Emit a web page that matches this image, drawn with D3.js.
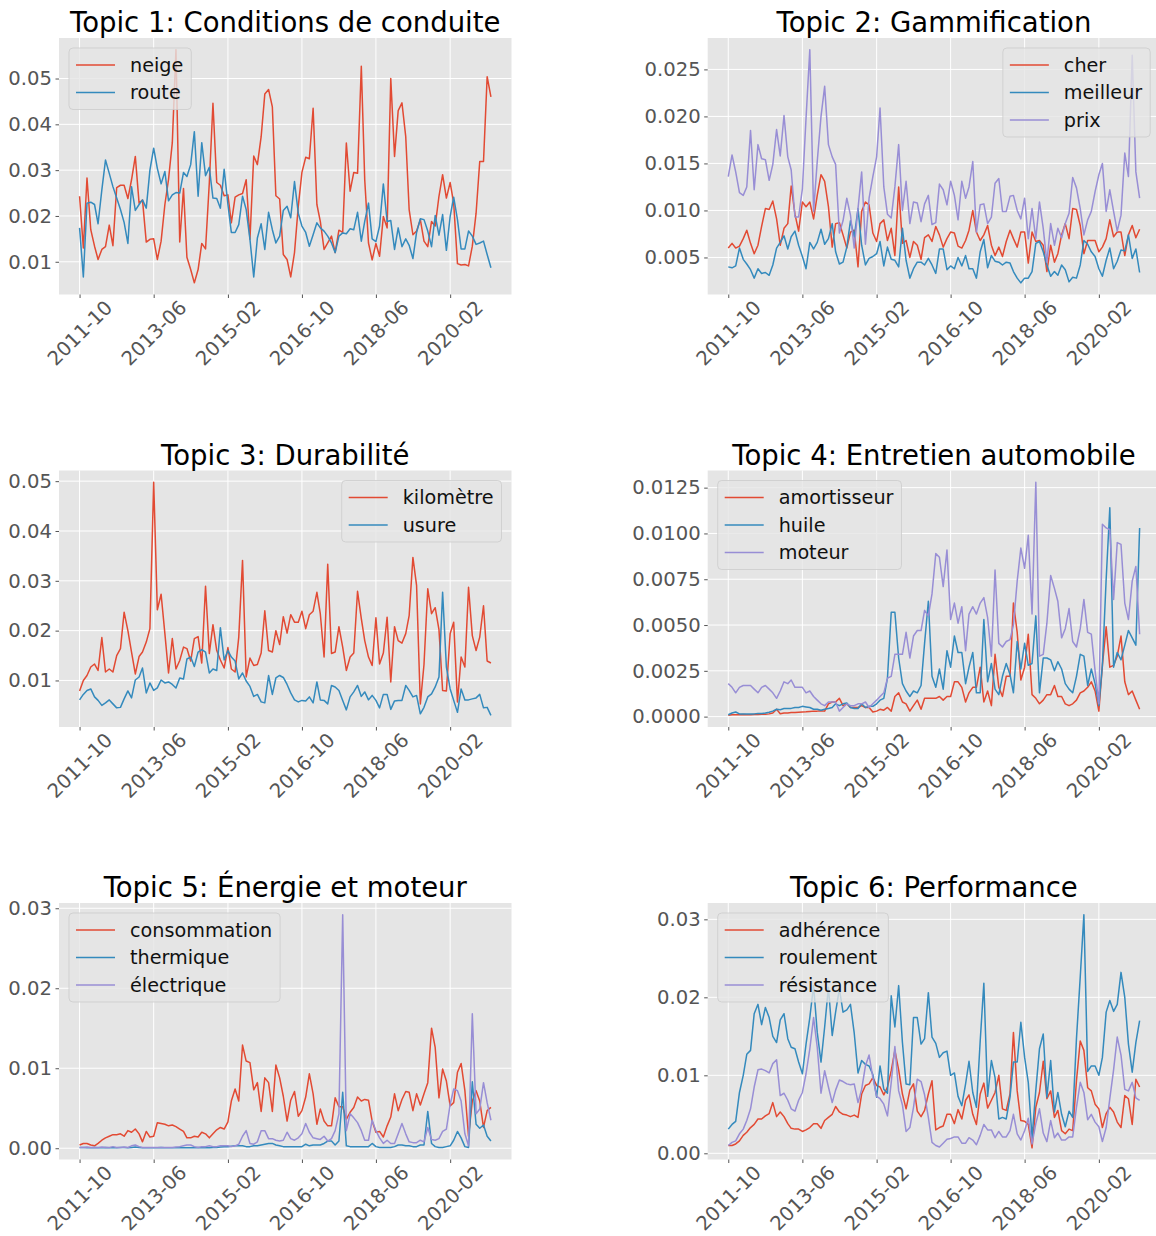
<!DOCTYPE html>
<html>
<head>
<meta charset="utf-8">
<script src="https://cdn.jsdelivr.net/npm/d3@7"></script>
<style>
  body { margin: 0; background: #fff; }
  text { font-family: "DejaVu Sans", sans-serif; }
</style>
</head>
<body>
<div id="chart"></div>
<script>
// monthly series, 2011-10 .. 2021-01
const firstMonth = "2011-10";
const monthCount = 112;
const xTickLabels = ["2011-10", "2013-06", "2015-02", "2016-10", "2018-06", "2020-02"];

// Topic 1
const neige = [0.0243,0.013,0.0283,0.017,0.0134,0.0105,0.0127,0.0133,0.018,0.0135,
  0.0262,0.0267,0.0267,0.0238,0.0279,0.033,0.0228,0.0235,0.0143,0.0149,
  0.015,0.0105,0.0145,0.0225,0.028,0.036,0.0563,0.0143,0.026,0.011,
  0.0083,0.0054,0.0083,0.014,0.0128,0.0272,0.0446,0.0273,0.0267,0.0244,
  0.0246,0.0185,0.0241,0.0246,0.0249,0.0279,0.0149,0.0331,0.0312,0.0373,
  0.0466,0.0476,0.0438,0.0244,0.0237,0.0116,0.0105,0.0067,0.012,0.0221,
  0.0295,0.0328,0.0325,0.0435,0.0225,0.0188,0.0127,0.0141,0.0156,0.012,
  0.0169,0.0164,0.0359,0.0254,0.0295,0.0293,0.0527,0.0279,0.0141,0.0104,
  0.014,0.0112,0.0199,0.0174,0.05,0.033,0.043,0.0447,0.0373,0.0214,
  0.0159,0.0167,0.0192,0.0145,0.0133,0.0188,0.0178,0.0243,0.029,0.0239,
  0.0273,0.0228,0.0096,0.0093,0.0094,0.0091,0.0134,0.0206,0.0319,0.0319,0.0504,0.046];
const route = [0.0174,0.0067,0.0228,0.023,0.0225,0.0183,0.0257,0.0322,0.0293,0.0264,
  0.0239,0.0214,0.0186,0.014,0.0264,0.0212,0.0225,0.0235,0.0217,0.03,
  0.0348,0.0304,0.027,0.0297,0.0233,0.0246,0.0251,0.025,0.0295,0.0286,
  0.0312,0.0384,0.0243,0.036,0.0288,0.0306,0.0239,0.0238,0.0217,0.0302,
  0.0225,0.0164,0.0164,0.0181,0.0243,0.0214,0.0149,0.0067,0.0152,0.0183,
  0.0127,0.0208,0.017,0.0141,0.0156,0.0212,0.0221,0.0196,0.0275,0.0206,
  0.0178,0.0164,0.0134,0.0159,0.0185,0.0174,0.0167,0.0156,0.0141,0.012,
  0.0156,0.0163,0.0161,0.0172,0.017,0.0208,0.0145,0.0188,0.0228,0.015,
  0.0144,0.0178,0.027,0.0188,0.019,0.0127,0.0174,0.0133,0.015,0.0136,
  0.0107,0.0164,0.0194,0.0192,0.0167,0.0133,0.0201,0.0158,0.0203,0.0125,
  0.0199,0.0241,0.0192,0.0128,0.0128,0.0167,0.0156,0.0138,0.0141,0.0145,0.0116,0.0087];

// Topic 2
const cher = [0.006,0.0065,0.006,0.0062,0.007,0.0079,0.0065,0.0054,0.0063,0.0083,
  0.0102,0.0101,0.011,0.0091,0.0063,0.0081,0.0086,0.0126,0.0096,0.0078,
  0.0109,0.0104,0.0109,0.0091,0.0116,0.0138,0.0131,0.0104,0.0061,0.0086,
  0.0087,0.0074,0.006,0.0077,0.0079,0.004,0.0099,0.0109,0.0106,0.0076,
  0.0067,0.0086,0.009,0.0068,0.0081,0.0052,0.0125,0.0065,0.0068,0.005,
  0.0067,0.0063,0.0048,0.0071,0.0074,0.0067,0.0083,0.0074,0.0061,0.007,
  0.0077,0.0076,0.0062,0.006,0.0068,0.0079,0.01,0.0077,0.0068,0.0074,
  0.0084,0.0063,0.0052,0.0061,0.0051,0.0067,0.0079,0.007,0.0061,0.0077,
  0.0077,0.0044,0.0077,0.0067,0.0068,0.0063,0.0035,0.0063,0.0045,0.0054,
  0.0074,0.0086,0.007,0.0102,0.0101,0.0084,0.0054,0.0068,0.0068,0.0068,
  0.0056,0.0061,0.007,0.009,0.0072,0.0077,0.0077,0.0052,0.0074,0.0084,0.0071,0.008];
const meilleur = [0.004,0.0039,0.0041,0.006,0.0048,0.0043,0.0037,0.0028,0.0038,0.0033,
  0.0034,0.0031,0.0042,0.006,0.0066,0.0073,0.0059,0.0072,0.0078,0.0063,
  0.0051,0.0038,0.0066,0.0059,0.0066,0.008,0.0064,0.007,0.0086,0.0056,
  0.0043,0.0045,0.0061,0.0089,0.0072,0.0102,0.0063,0.0042,0.0049,0.0051,
  0.0054,0.0067,0.0041,0.0061,0.0048,0.0047,0.004,0.0081,0.0047,0.0028,
  0.0038,0.0045,0.0045,0.0042,0.0049,0.0042,0.0033,0.0059,0.0059,0.0037,
  0.0041,0.0038,0.005,0.0041,0.0052,0.0038,0.0038,0.0028,0.0056,0.0069,
  0.0039,0.0052,0.0046,0.0045,0.0042,0.0045,0.0044,0.0035,0.0028,0.0023,
  0.0028,0.0028,0.0035,0.0065,0.0067,0.0056,0.0042,0.003,0.0035,0.0031,
  0.0042,0.0037,0.0024,0.0029,0.0028,0.0042,0.0068,0.0064,0.0056,0.0051,
  0.0038,0.003,0.0047,0.006,0.0038,0.0046,0.0058,0.0057,0.0074,0.0049,0.0059,0.0034];
const prix = [0.0136,0.0159,0.0141,0.0119,0.0116,0.0125,0.0185,0.0122,0.017,0.0155,
  0.0154,0.0132,0.0149,0.0186,0.0158,0.0201,0.0157,0.0143,0.0093,0.0093,
  0.0123,0.0198,0.0271,0.0099,0.0152,0.02,0.0232,0.017,0.0157,0.0149,
  0.0076,0.0089,0.0113,0.0095,0.006,0.0102,0.0141,0.0064,0.0113,0.0136,
  0.0157,0.0209,0.0125,0.0096,0.0092,0.0125,0.017,0.01,0.0131,0.0086,
  0.0109,0.0108,0.0088,0.0107,0.0116,0.0085,0.0087,0.0128,0.0122,0.0106,
  0.0131,0.0116,0.009,0.0131,0.0113,0.0125,0.0152,0.0077,0.0106,0.0107,
  0.0086,0.0093,0.0129,0.0134,0.0099,0.0099,0.0115,0.0116,0.01,0.0091,
  0.0113,0.007,0.0102,0.007,0.0109,0.0081,0.0045,0.0086,0.0063,0.0081,
  0.0071,0.0086,0.0097,0.0135,0.0124,0.0102,0.0074,0.009,0.0099,0.012,
  0.0138,0.015,0.0099,0.0122,0.0099,0.0078,0.0095,0.0161,0.0136,0.0265,0.0141,0.0113];

// Topic 3
const kilometre = [0.0079,0.01,0.011,0.0127,0.0133,0.012,0.0186,0.0117,0.0123,0.0117,
  0.015,0.0164,0.0237,0.02,0.0157,0.0113,0.0148,0.0157,0.0177,0.0204,
  0.0498,0.0242,0.0273,0.0194,0.0115,0.0184,0.0123,0.014,0.0167,0.0164,
  0.0139,0.0184,0.0188,0.0135,0.0289,0.0154,0.0212,0.016,0.0141,0.0125,
  0.0166,0.0123,0.0117,0.0187,0.0341,0.0107,0.0145,0.013,0.0132,0.0155,
  0.024,0.016,0.0157,0.02,0.0172,0.0228,0.0195,0.0232,0.0217,0.0217,
  0.0239,0.0204,0.0232,0.0239,0.0277,0.0234,0.0147,0.0333,0.0154,0.0157,
  0.0208,0.0167,0.012,0.0147,0.0155,0.0279,0.0224,0.018,0.0147,0.013,
  0.0226,0.0133,0.0155,0.0227,0.0097,0.0208,0.018,0.0175,0.0194,0.023,
  0.0347,0.0291,0.0053,0.0132,0.0284,0.0234,0.0246,0.0202,0.008,0.0079,
  0.0194,0.0217,0.0057,0.0147,0.0127,0.0287,0.019,0.016,0.0187,0.025,0.0139,0.0135];
const usure = [0.0061,0.0072,0.008,0.0083,0.0067,0.006,0.005,0.0055,0.0061,0.0053,
  0.0045,0.0046,0.0063,0.0079,0.0065,0.0101,0.0107,0.0125,0.0075,0.0095,
  0.008,0.0085,0.0101,0.0095,0.0097,0.0092,0.0085,0.0105,0.0103,0.0143,
  0.0147,0.0128,0.0157,0.0162,0.0157,0.0115,0.0123,0.012,0.0206,0.0141,
  0.016,0.0147,0.0139,0.0103,0.0115,0.0099,0.0088,0.0068,0.0072,0.0057,
  0.0055,0.011,0.0072,0.0105,0.011,0.0106,0.0092,0.0075,0.0061,0.0057,
  0.006,0.0059,0.0067,0.0055,0.0097,0.0061,0.006,0.0053,0.009,0.0087,
  0.008,0.006,0.0041,0.0067,0.0077,0.009,0.0068,0.0077,0.0061,0.007,
  0.006,0.0045,0.0072,0.0072,0.0042,0.0059,0.006,0.006,0.009,0.008,
  0.0067,0.007,0.0033,0.0046,0.0067,0.0073,0.0087,0.0107,0.0277,0.0127,
  0.0083,0.006,0.0036,0.0083,0.0061,0.0061,0.0063,0.0065,0.0072,0.0045,0.0046,0.003];

// Topic 4
const amortisseur = [0.00007,0.0001,0.0001,0.0001,0.00012,0.0001,0.0001,0.00012,0.00012,0.00013,
  0.00013,0.00015,0.0002,0.0004,0.00016,0.0002,0.0002,0.00022,0.00022,0.00024,
  0.00025,0.00026,0.00028,0.0003,0.0003,0.00032,0.0003,0.0007,0.0008,0.0008,
  0.001,0.0006,0.0007,0.0005,0.0005,0.0005,0.0006,0.0005,0.0005,0.00025,
  0.0003,0.0004,0.00035,0.0005,0.0003,0.0011,0.0013,0.0008,0.0007,0.0003,
  0.0006,0.0009,0.0004,0.001,0.001,0.001,0.001,0.0011,0.0009,0.0011,
  0.0011,0.0019,0.0019,0.0016,0.0008,0.0013,0.0016,0.0016,0.0027,0.0008,
  0.0014,0.0006,0.0034,0.0016,0.0011,0.0022,0.0022,0.0062,0.0046,0.002,
  0.0027,0.0045,0.0012,0.001,0.0007,0.0009,0.0012,0.0012,0.0017,0.0011,
  0.0011,0.0007,0.0006,0.0007,0.0009,0.0013,0.0014,0.0016,0.0019,0.0014,
  0.0003,0.0028,0.0049,0.0027,0.0028,0.0033,0.0044,0.0019,0.0012,0.0014,0.0009,0.0004];
const huile = [0.0001,0.0002,0.00025,0.00015,0.00015,0.00015,0.00015,0.00015,0.00017,0.00017,
  0.0002,0.00024,0.0003,0.0004,0.00038,0.00044,0.00044,0.00045,0.0005,0.0005,
  0.00056,0.00053,0.0005,0.0004,0.0004,0.00035,0.0004,0.00044,0.0005,0.0007,
  0.0006,0.0007,0.00074,0.0005,0.00044,0.00044,0.0007,0.0005,0.00056,0.00056,
  0.0007,0.0009,0.001,0.0021,0.0057,0.0057,0.0032,0.0018,0.0014,0.0011,
  0.0014,0.0013,0.0017,0.004,0.0063,0.0022,0.0016,0.0026,0.0015,0.0036,
  0.0027,0.0044,0.0035,0.0035,0.0018,0.0027,0.0035,0.0013,0.0013,0.0053,
  0.0019,0.0029,0.0015,0.0012,0.0022,0.0029,0.0023,0.0013,0.0041,0.0026,
  0.004,0.0028,0.0029,0.0055,0.0013,0.0032,0.0032,0.0031,0.0025,0.003,
  0.0026,0.0018,0.0015,0.0013,0.0022,0.0034,0.0033,0.0017,0.0026,0.0018,
  0.0006,0.0028,0.0075,0.0114,0.0027,0.0035,0.0031,0.0039,0.0047,0.0043,0.0039,0.0103];
const moteur = [0.0018,0.0016,0.0013,0.0016,0.0017,0.0017,0.0017,0.0015,0.0013,0.0016,
  0.0017,0.0015,0.0013,0.001,0.0014,0.0019,0.0018,0.002,0.0016,0.0016,
  0.0016,0.0013,0.0014,0.0011,0.0009,0.0007,0.0006,0.0008,0.0008,0.0008,
  0.0003,0.0005,0.0007,0.0006,0.0006,0.0007,0.0007,0.0008,0.0005,0.0007,
  0.0009,0.0011,0.0013,0.0021,0.0022,0.0034,0.0034,0.0034,0.0046,0.0032,
  0.0044,0.0047,0.0047,0.0058,0.0055,0.0067,0.0089,0.0087,0.0071,0.0091,
  0.0053,0.0062,0.0051,0.006,0.0036,0.0056,0.006,0.0056,0.0062,0.0065,
  0.0054,0.0033,0.008,0.004,0.0038,0.0041,0.0042,0.005,0.0074,0.0092,
  0.0081,0.0099,0.0056,0.0128,0.0033,0.0034,0.0051,0.0077,0.007,0.0063,
  0.0043,0.0048,0.0059,0.0041,0.0038,0.0048,0.0064,0.0046,0.0045,0.0025,
  0.0007,0.0105,0.0103,0.0102,0.0064,0.0095,0.0094,0.0062,0.0053,0.0074,0.0082,0.0045];

// Topic 5
const consommation = [0.0004,0.0006,0.0006,0.0004,0.0003,0.0006,0.001,0.0013,0.0015,0.0017,
  0.0017,0.0018,0.0015,0.0022,0.002,0.0024,0.0018,0.0008,0.0021,0.0014,
  0.0015,0.0032,0.0031,0.003,0.0028,0.0029,0.0027,0.0024,0.0021,0.0013,
  0.0013,0.0015,0.0014,0.002,0.0018,0.0013,0.0018,0.0023,0.0026,0.0024,
  0.0033,0.0059,0.0074,0.0059,0.0129,0.0109,0.0107,0.0073,0.0082,0.0046,
  0.0088,0.0082,0.0046,0.0104,0.0088,0.0065,0.0034,0.006,0.0071,0.004,
  0.0047,0.0064,0.0093,0.0068,0.003,0.0049,0.0034,0.0028,0.0028,0.0063,
  0.0052,0.0052,0.0036,0.0045,0.0051,0.0064,0.0059,0.0061,0.006,0.0034,
  0.002,0.0021,0.0014,0.0028,0.0039,0.0068,0.0047,0.0061,0.0071,0.007,
  0.0047,0.0068,0.0054,0.0068,0.0082,0.015,0.0126,0.0063,0.0099,0.0084,
  0.0053,0.0057,0.0095,0.0106,0.0072,0.0015,0.0059,0.0072,0.0059,0.0026,0.0047,0.0051];
const thermique = [0.0001,0.0001,0.00005,0.00005,0.0001,0.00005,0.00005,0.0001,0.00005,0.00005,
  0.00005,0.0001,0.0001,0.00005,0.0001,0.00015,0.0001,0.00005,0.00005,0.00005,
  0.00005,0.00005,0.0001,0.00005,0.00005,0.00005,0.00005,0.0001,0.00005,0.00005,
  0.00005,0.00005,0.0001,0.00005,0.0001,0.00005,0.0001,0.0001,0.00015,0.0002,
  0.0002,0.00025,0.0003,0.0003,0.0003,0.0002,0.0002,0.0003,0.0003,0.0004,
  0.0005,0.0006,0.0006,0.0004,0.0003,0.0002,0.0002,0.0002,0.0002,0.0002,
  0.0002,0.0005,0.0003,0.0004,0.0004,0.0004,0.0006,0.0009,0.0009,0.0004,
  0.0009,0.007,0.0003,0.0002,0.0002,0.0002,0.0002,0.0002,0.0002,0.0006,
  0.0002,0.0001,0.0001,0.0001,0.0001,0.0002,0.0004,0.0004,0.0003,0.0003,
  0.0002,0.0002,0.0004,0.0004,0.0046,0.0006,0.0002,0.0001,0.0001,0.0002,
  0.0003,0.001,0.0021,0.0013,0.0002,0.0001,0.0083,0.003,0.0025,0.0029,0.0015,0.0009];
const electrique = [0.0001,0.0001,0.00015,0.0001,0.0001,0.0001,0.00015,0.0001,0.0001,0.0002,
  0.0001,0.0001,0.00015,0.0001,0.0003,0.0004,0.0002,0.0001,0.0001,0.0001,
  0.0001,0.0001,0.0001,0.0001,0.0001,0.0001,0.00015,0.0002,0.0003,0.0004,
  0.0004,0.0002,0.0001,0.0002,0.0002,0.0003,0.0002,0.0002,0.0003,0.0003,
  0.0003,0.0002,0.0003,0.0005,0.0015,0.0022,0.0006,0.0005,0.0008,0.0022,
  0.0022,0.0012,0.0012,0.001,0.0009,0.001,0.002,0.0012,0.001,0.0013,
  0.0018,0.0031,0.002,0.0013,0.0012,0.0011,0.0015,0.0009,0.0012,0.0022,
  0.0043,0.0292,0.0022,0.0043,0.0038,0.0032,0.0022,0.001,0.001,0.0035,
  0.0022,0.0013,0.0006,0.001,0.0006,0.0006,0.0018,0.0031,0.0018,0.0008,
  0.0007,0.0007,0.001,0.0008,0.0026,0.0011,0.001,0.0012,0.0021,0.0024,
  0.0055,0.0074,0.0072,0.0059,0.0018,0.0003,0.0168,0.0043,0.0049,0.0082,0.0057,0.0035];

// Topic 6
const adherence = [0.001,0.001,0.0012,0.0016,0.0023,0.0027,0.0033,0.0037,0.0044,0.0044,
  0.0048,0.0051,0.0065,0.0047,0.0053,0.0047,0.0038,0.0032,0.0031,0.0031,
  0.0028,0.003,0.0033,0.0038,0.0038,0.0032,0.0042,0.0046,0.005,0.006,
  0.0053,0.005,0.0049,0.0047,0.0049,0.0046,0.0076,0.0087,0.0089,0.0097,
  0.0087,0.0085,0.0075,0.0085,0.0106,0.0132,0.0107,0.0076,0.0057,0.0081,
  0.0089,0.0054,0.0047,0.0055,0.0076,0.0093,0.003,0.0033,0.0035,0.005,
  0.005,0.0038,0.0056,0.0044,0.0068,0.0075,0.005,0.0037,0.0076,0.009,
  0.0058,0.0068,0.0078,0.01,0.0057,0.0055,0.0076,0.0155,0.008,0.0042,
  0.0041,0.0037,0.0007,0.0059,0.0078,0.0118,0.007,0.008,0.0046,0.0055,
  0.0029,0.0025,0.0031,0.0029,0.0093,0.0144,0.0132,0.0084,0.008,0.0063,
  0.0057,0.0033,0.0051,0.0059,0.0053,0.004,0.0033,0.0074,0.007,0.0037,0.0095,0.0085];
const roulement = [0.0031,0.0037,0.0041,0.0078,0.01,0.0127,0.0132,0.0179,0.0191,0.0165,
  0.0187,0.0174,0.015,0.0142,0.0171,0.0179,0.0147,0.0136,0.0134,0.0117,
  0.0102,0.014,0.0174,0.0215,0.0155,0.0117,0.0162,0.0213,0.0151,0.0181,
  0.0211,0.0181,0.0184,0.0191,0.0154,0.0103,0.0119,0.0114,0.0112,0.0101,
  0.0072,0.0112,0.0082,0.0077,0.0202,0.0162,0.0215,0.0142,0.0089,0.0088,
  0.0174,0.0174,0.014,0.0147,0.0206,0.0149,0.0141,0.0123,0.0129,0.0131,
  0.01,0.0103,0.0073,0.0061,0.0089,0.0118,0.0078,0.0059,0.0144,0.0218,
  0.0073,0.0119,0.0097,0.0044,0.0046,0.0044,0.0072,0.0117,0.0117,0.0168,
  0.0123,0.0091,0.002,0.0081,0.0134,0.0153,0.0072,0.0119,0.0053,0.0078,
  0.005,0.0034,0.0054,0.0046,0.0147,0.0226,0.0306,0.0105,0.0112,0.0112,
  0.01,0.0123,0.0181,0.0196,0.0182,0.0191,0.0232,0.02,0.014,0.0104,0.0142,0.017];
const resistance = [0.001,0.0014,0.0016,0.0025,0.0031,0.0042,0.0057,0.0085,0.0107,0.0108,
  0.0106,0.0103,0.0115,0.012,0.0074,0.0077,0.0068,0.0057,0.0054,0.0068,
  0.0078,0.0102,0.0134,0.0174,0.0136,0.0077,0.0106,0.0085,0.0065,0.0081,
  0.0094,0.0092,0.0089,0.0088,0.0089,0.0065,0.0082,0.0112,0.0126,0.0097,
  0.0073,0.007,0.0063,0.0048,0.0091,0.0137,0.008,0.0062,0.0028,0.0033,
  0.0059,0.0095,0.0092,0.0075,0.0046,0.0014,0.001,0.0008,0.0013,0.0018,
  0.0019,0.0021,0.0021,0.0013,0.0013,0.002,0.0017,0.0011,0.0023,0.0037,
  0.003,0.003,0.002,0.0028,0.0021,0.0021,0.0029,0.005,0.0025,0.0017,
  0.0029,0.0045,0.0012,0.0038,0.0057,0.0026,0.0015,0.0042,0.002,0.0026,
  0.0017,0.0017,0.0021,0.0021,0.0059,0.0091,0.0078,0.0043,0.005,0.004,
  0.0034,0.0015,0.0033,0.007,0.0107,0.0149,0.0126,0.0082,0.008,0.0091,0.0071,0.0068];

const panelTitles = ["Topic 1: Conditions de conduite", "Topic 2: Gammification",
  "Topic 3: Durabilité", "Topic 4: Entretien automobile",
  "Topic 5: Énergie et moteur", "Topic 6: Performance"];
const panelNames = [["neige", "route"], ["cher", "meilleur", "prix"],
  ["kilomètre", "usure"], ["amortisseur", "huile", "moteur"],
  ["consommation", "thermique", "électrique"], ["adhérence", "roulement", "résistance"]];
const panelValues = [[neige, route], [cher, meilleur, prix],
  [kilometre, usure], [amortisseur, huile, moteur],
  [consommation, thermique, electrique], [adherence, roulement, resistance]];
const panelYTicks = [[0.01, 0.02, 0.03, 0.04, 0.05],
  [0.005, 0.010, 0.015, 0.020, 0.025],
  [0.01, 0.02, 0.03, 0.04, 0.05],
  [0, 0.0025, 0.005, 0.0075, 0.01, 0.0125],
  [0, 0.01, 0.02, 0.03],
  [0, 0.01, 0.02, 0.03]];
const panelYFormats = [".2f", ".3f", ".2f", ".4f", ".2f", ".2f"];
const legendCorner = ["left", "right", "right", "left", "left", "left"];

// layout
const svgWidth = 1156, svgHeight = 1236;
const colX = [59, 707.7];
const rowY = [38, 470.5, 903];
const axW = 452.5, axH = 256.5;
const colors = ["#E24A33", "#348ABD", "#988ED5"];
const tickFont = 19.6, legendFont = 19.2;

const parseMonth = d3.timeParse("%Y-%m");
const months = d3.timeMonth.range(parseMonth(firstMonth),
  d3.timeMonth.offset(parseMonth(firstMonth), monthCount));
const xTickDates = xTickLabels.map(parseMonth);

const svg = d3.select("#chart").append("svg")
  .attr("width", svgWidth)
  .attr("height", svgHeight)
  .style("background", "#fff");

panelTitles.forEach((title, p) => {
  const x0 = colX[p % 2];
  const y0 = rowY[Math.floor(p / 2)];
  const series = panelValues[p];

  // matplotlib-like 5% margins
  const [lo, hi] = d3.extent(series.flat());
  const yPad = (hi - lo) * 0.05;
  const y = d3.scaleLinear().domain([lo - yPad, hi + yPad]).range([y0 + axH, y0]);
  const t0 = +months[0], t1 = +months[months.length - 1];
  const tPad = (t1 - t0) * 0.05;
  const x = d3.scaleTime().domain([new Date(t0 - tPad), new Date(t1 + tPad)]).range([x0, x0 + axW]);

  const g = svg.append("g");

  g.append("rect")
    .attr("x", x0).attr("y", y0)
    .attr("width", axW).attr("height", axH)
    .attr("fill", "#E5E5E5");

  // grid
  g.append("g").selectAll("line")
    .data(panelYTicks[p])
    .join("line")
    .attr("x1", x0).attr("x2", x0 + axW)
    .attr("y1", d => y(d)).attr("y2", d => y(d))
    .attr("stroke", "#fff").attr("stroke-width", 1);
  g.append("g").selectAll("line")
    .data(xTickDates)
    .join("line")
    .attr("x1", d => x(d)).attr("x2", d => x(d))
    .attr("y1", y0).attr("y2", y0 + axH)
    .attr("stroke", "#fff").attr("stroke-width", 1);

  // series
  const line = d3.line()
    .x((d, i) => x(months[i]))
    .y(d => y(d));
  series.forEach((vals, k) => {
    g.append("path")
      .datum(vals)
      .attr("d", line)
      .attr("fill", "none")
      .attr("stroke", colors[k])
      .attr("stroke-width", 1.5)
      .attr("stroke-linejoin", "round");
  });

  // legend
  const names = panelNames[p];
  const rowH = 27.5, pad = 7, textH = 18;
  const lg = g.append("g");
  const box = lg.append("rect")
    .attr("rx", 4)
    .attr("fill", "#E5E5E5").attr("fill-opacity", 0.8)
    .attr("stroke", "#CCCCCC").attr("stroke-opacity", 0.8)
    .attr("stroke-width", 1);
  const labels = names.map((n, k) => lg.append("text")
    .attr("font-size", legendFont)
    .attr("fill", "#111")
    .attr("dominant-baseline", "central")
    .text(n));
  const maxW = d3.max(labels, t => t.node().getComputedTextLength());
  const boxW = 61 + maxW + 8;
  const boxH = 2 * pad + names.length * rowH - (rowH - textH) + 2;
  const bx = legendCorner[p] === "left" ? x0 + 10 : x0 + axW - 10 - boxW;
  const by = y0 + 10;
  box.attr("x", bx).attr("y", by).attr("width", boxW).attr("height", boxH);
  names.forEach((n, k) => {
    const cy = by + pad + 10 + k * rowH;
    lg.append("line")
      .attr("x1", bx + 7).attr("x2", bx + 46)
      .attr("y1", cy).attr("y2", cy)
      .attr("stroke", colors[k]).attr("stroke-width", 1.5);
    labels[k].attr("x", bx + 61).attr("y", cy);
  });

  // y axis
  const yAxis = g.append("g")
    .attr("transform", `translate(${x0},0)`)
    .call(d3.axisLeft(y)
      .tickValues(panelYTicks[p])
      .tickFormat(d3.format(panelYFormats[p]))
      .tickSize(3.5)
      .tickPadding(3.5));
  yAxis.select(".domain").remove();
  yAxis.attr("font-size", tickFont).attr("font-family", "DejaVu Sans");
  yAxis.selectAll("line").attr("stroke", "#555555");
  yAxis.selectAll("text").attr("fill", "#555555");

  // x axis, labels rotated 45 degrees around their centre
  const xAxis = g.append("g")
    .attr("transform", `translate(0,${y0 + axH})`)
    .call(d3.axisBottom(x)
      .tickValues(xTickDates)
      .tickFormat(d3.timeFormat("%Y-%m"))
      .tickSize(3.5));
  xAxis.select(".domain").remove();
  xAxis.attr("font-size", tickFont).attr("font-family", "DejaVu Sans");
  xAxis.selectAll("line").attr("stroke", "#555555");
  xAxis.selectAll("text")
    .attr("fill", "#555555")
    .each(function () {
      const L = this.getComputedTextLength();
      const off = 4.5 + (L + 15) * Math.SQRT1_2 / 2;
      d3.select(this)
        .attr("y", 0).attr("dy", null)
        .attr("text-anchor", "middle")
        .attr("dominant-baseline", "central")
        .attr("transform", `translate(0,${off}) rotate(-45)`);
    });

  // title
  g.append("text")
    .attr("x", x0 + axW / 2)
    .attr("y", y0 - 6)
    .attr("text-anchor", "middle")
    .attr("font-size", 27.5)
    .attr("fill", "#000")
    .text(title);
});
</script>
</body>
</html>
